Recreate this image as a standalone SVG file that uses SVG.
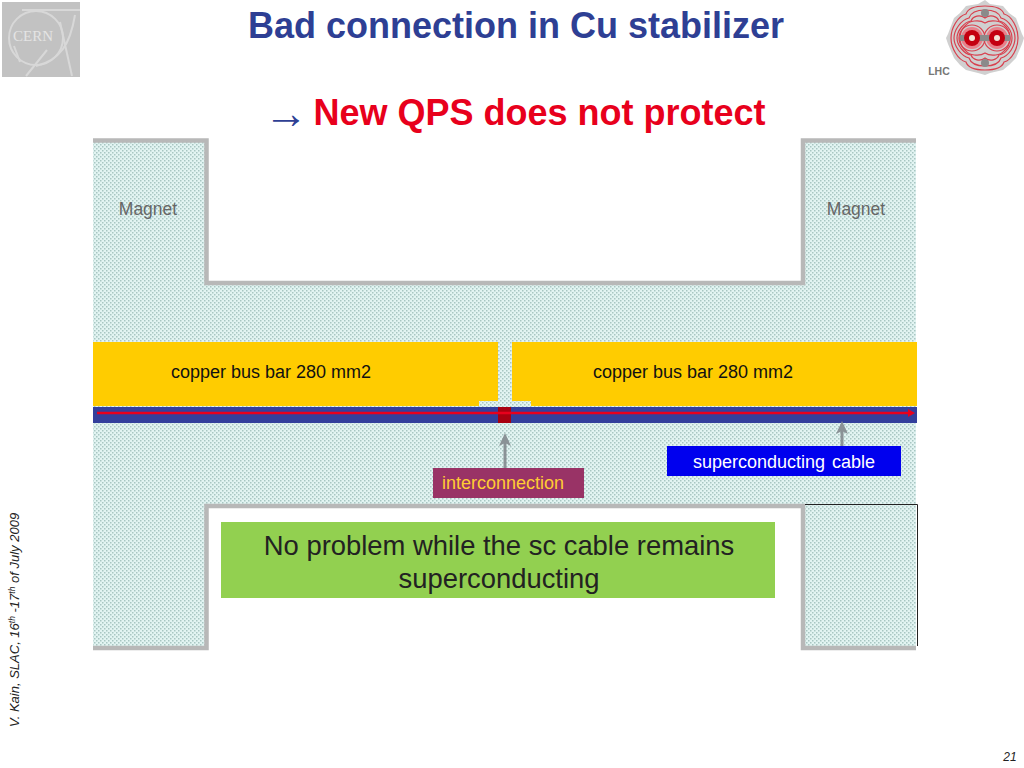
<svg xmlns="http://www.w3.org/2000/svg" width="1024" height="768" viewBox="0 0 1024 768">
<style>
text{font-family:"Liberation Sans",Arial,sans-serif}
.t{font-weight:bold;font-size:36px;text-anchor:middle}
.m{font-size:17.500px;fill:#666;text-anchor:middle}
.b{font-size:18px;fill:#111;text-anchor:middle}
.g{fill:none;stroke:#b8b8b8;stroke-width:4.500}
.a{fill:none;stroke:#8a9296;stroke-width:3}
.ah{fill:#8a9296}
.cl{fill:none;stroke:#d8d8d8;stroke-width:2}
.rl{fill:none;stroke:#d8404e;stroke-width:1.200}
</style>
<defs>
<pattern id="dots" width="4" height="4" patternUnits="userSpaceOnUse">
<rect width="4" height="4" fill="#e2f4f2"/>
<rect x="0" y="0" width="1.500" height="1.500" fill="#a8c6c2"/>
<rect x="2" y="2" width="1.500" height="1.500" fill="#a8c6c2"/>
</pattern>
</defs>
<g id="cern-logo">
<rect x="2" y="2" width="78" height="75" fill="#c2c2c2"/>
<circle cx="36" cy="38" r="27" class="cl"/>
<path class="cl" d="M22 10H80M75 15C70 45 60 60 36 66M60 22L72 76M47 50L26 76M14 46L20 62"/>
<text x="33" y="41" font-size="15" fill="#e4e4e4" text-anchor="middle" style="font-family:'Liberation Serif',serif">CERN</text>
</g>
<g id="lhc-logo">
<path d="M985 0L990 4L1003 6L1009 13L1016 18L1022 34L1024 38L1022 44L1016 58L1009 65L1003 70L990 73L985 75L978 73L966 70L960 65L954 58L948 44L946 38L948 34L954 18L960 13L966 6L978 4Z" fill="#d0d0d0"/>
<path class="rl" d="M985 6C994 6 1002 8 1004 14C1012 16 1018 28 1018 38C1018 48 1012 60 1004 62C1002 68 994 70 985 70C976 70 968 68 966 62C958 60 951 48 951 38C951 28 958 16 966 14C968 8 976 6 985 6Z" fill="#f6e6e4"/>
<path class="rl" d="M985 10C992 10 999 12 1001 18C1009 20 1015 30 1015 38C1015 46 1009 56 1001 58C999 64 992 66 985 66C978 66 971 64 969 58C961 56 954 46 954 38C954 30 961 20 969 18C971 12 978 10 985 10Z"/>
<path class="rl" d="M985 18C990 14 997 16 999 21C1006 22 1012 31 1012 38C1012 45 1006 54 999 55C997 60 990 62 985 58C980 62 973 60 971 55C964 54 957 45 957 38C957 31 964 22 971 21C973 16 980 14 985 18Z"/>
<path class="rl" d="M985 23C991 19 1001 21 1004 25C1009 29 1010 34 1010 38C1010 42 1009 47 1004 51C1001 55 991 57 985 53C979 57 969 55 966 51C961 47 960 42 960 38C960 34 961 29 966 25C969 21 979 19 985 23Z"/>
<circle cx="972" cy="38" r="13" class="rl"/><circle cx="997" cy="38" r="13" class="rl"/>
<circle cx="972" cy="38" r="11" fill="#e8808a"/><circle cx="997" cy="38" r="11" fill="#e8808a"/>
<circle cx="985" cy="13" r="4" fill="#8a8a8a"/><circle cx="985" cy="63" r="4" fill="#8a8a8a"/>
<rect x="960" y="35" width="50" height="6" fill="#8a8a8a"/>
<circle cx="972" cy="38" r="8" fill="#c40010"/><circle cx="997" cy="38" r="8" fill="#c40010"/>
<circle cx="972" cy="38" r="3" fill="#f4e4d8"/><circle cx="997" cy="38" r="3" fill="#f4e4d8"/>
<text x="939" y="75" font-size="10.500" font-weight="bold" fill="#777" text-anchor="middle">LHC</text>
</g>
<text class="t" x="516" y="38" fill="#2e3f94" id="title">Bad connection in Cu stabilizer</text>
<text id="subtitle-arrow" x="264" y="128" font-size="44" fill="#2e3f94">→</text>
<text id="subtitle" x="539.500" y="125" class="t" fill="#e8001c">New QPS does not protect</text>
<g id="magnet">
<path d="M93 140H205V283H803V140H916V648H803V505H205V648H93Z" fill="url(#dots)"/>
<path class="g" d="M93 140.500H206.500V283H803V140.500H916"/>
<path class="g" d="M93 648H206.500V506H803V648H916"/>
<path d="M805 504.500H917.500V646" fill="none" stroke="#222" stroke-width="1"/>
<text class="m" x="148" y="215">Magnet</text>
<text class="m" x="856" y="215">Magnet</text>
</g>
<g id="bus-left"><rect x="93" y="342" width="405" height="64" fill="#ffcc00"/>
<text class="b" x="271" y="378">copper bus bar 280 mm2</text></g>
<g id="bus-right"><rect x="512" y="342" width="405" height="64" fill="#ffcc00"/>
<text class="b" x="693" y="378">copper bus bar 280 mm2</text></g>
<g id="gap"><rect x="479" y="401" width="52" height="6" fill="url(#dots)"/></g>
<g id="cable"><rect x="93" y="407" width="824" height="16" fill="#333f9c"/>
<rect x="498" y="407" width="13" height="16" fill="#a80010"/></g>
<g id="connectors">
<path d="M97 413H908" stroke="#e8001c" stroke-width="2.500" fill="none"/>
<path d="M908 409L915 413L908 417Z" fill="#e8001c"/>
<path class="a" d="M505 470V438"/><path class="ah" d="M505 433L511 446L505 443L499 446Z"/>
<path class="a" d="M842 453V428"/><path class="ah" d="M842 421L848 434L842 431L836 434Z"/>
</g>
<g id="interconnection"><rect x="433" y="468" width="151" height="30" fill="#993366"/>
<text x="503" y="489" font-size="18" fill="#ffcc33" text-anchor="middle">interconnection</text></g>
<g id="sc-cable"><rect x="667" y="446" width="234" height="30" fill="#0000ee"/>
<text x="784" y="468" font-size="18" fill="#fff" text-anchor="middle" word-spacing="2">superconducting cable</text></g>
<g id="note"><rect x="221" y="522" width="554" height="76" fill="#92d050"/>
<text x="499" y="555" font-size="27.400" fill="#222" text-anchor="middle">No problem while the sc cable remains</text>
<text x="499" y="588" font-size="27.400" fill="#222" text-anchor="middle">superconducting</text></g>
<text id="footer" transform="translate(19 727) rotate(-90)" font-size="13" font-style="italic" fill="#222">V. Kain, SLAC, 16<tspan font-size="8.500" dy="-4">th</tspan><tspan dy="4"> -17</tspan><tspan font-size="8.500" dy="-4">th</tspan><tspan dy="4"> of July 2009</tspan></text>
<text id="page" x="1010" y="761" font-size="12" font-style="italic" fill="#222" text-anchor="middle">21</text>
</svg>
